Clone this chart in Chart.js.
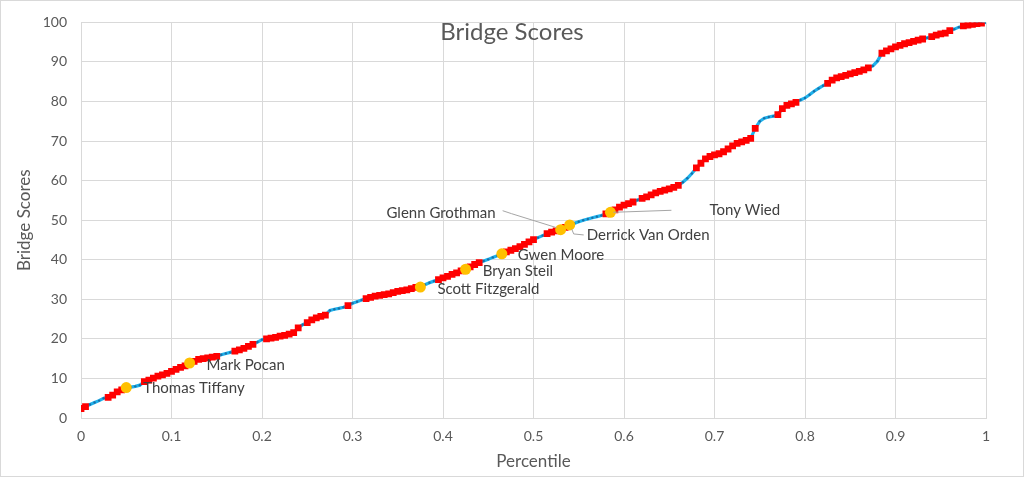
<!DOCTYPE html>
<html>
<head>
<meta charset="utf-8">
<title>Bridge Scores</title>
<script src="https://cdn.jsdelivr.net/npm/chart.js@4.4.1/dist/chart.umd.min.js"></script>
<style>
  html, body { margin: 0; padding: 0; background: #fff; }
  #wrap { width: 1024px; height: 477px; position: relative; }
</style>
</head>
<body>
<div id="wrap"><canvas id="bridgeChart"></canvas></div>
<script>
// Bridge Scores - percentile curve

// scores, one every 0.005 of percentile (201 members)
const scores = [
  2.4, 2.9, 3.4, 3.9, 4.4, 5.0, 5.2, 5.8, 6.6, 7.1, 7.6, 7.8, 8.0, 8.3, 9.2, 9.6, 10.1, 10.6, 10.9, 11.3,
  11.8, 12.3, 12.8, 13.2, 13.8, 14.3, 14.8, 15.0, 15.2, 15.4, 15.6, 16.0, 16.3, 16.6, 16.9, 17.2, 17.6, 18.1, 18.6, 19.2,
  19.8, 20.0, 20.2, 20.4, 20.7, 20.9, 21.2, 21.6, 22.8, 23.6, 24.1, 24.8, 25.3, 25.7, 26.0, 27.2, 27.5, 27.7, 28.0, 28.4,
  29.0, 29.4, 29.8, 30.2, 30.5, 30.8, 31.0, 31.2, 31.4, 31.7, 32.0, 32.2, 32.4, 32.7, 33.0, 33.2, 33.7, 34.2, 34.6, 35.0,
  35.4, 35.8, 36.3, 36.7, 37.2, 37.6, 38.2, 38.8, 39.3, 39.7, 40.1, 40.6, 41.0, 41.5, 42.0, 42.4, 42.8, 43.3, 43.9, 44.5,
  45.1, 45.6, 46.1, 46.6, 47.0, 47.3, 47.6, 48.2, 48.8, 49.2, 49.6, 50.0, 50.3, 50.6, 50.9, 51.2, 51.6, 52.0, 52.6, 53.3,
  53.8, 54.2, 54.6, 55.1, 55.5, 55.9, 56.4, 56.9, 57.3, 57.6, 57.9, 58.3, 58.8, 59.6, 60.6, 61.8, 63.2, 64.4, 65.5, 66.1,
  66.5, 66.8, 67.3, 68.0, 68.8, 69.4, 69.8, 70.2, 70.7, 73.2, 75.0, 75.8, 76.1, 76.3, 76.7, 78.2, 79.0, 79.4, 79.8, 80.4,
  80.9, 81.7, 82.6, 83.3, 84.0, 84.6, 85.4, 86.0, 86.3, 86.6, 87.0, 87.3, 87.6, 88.0, 88.5, 89.0, 90.2, 92.2, 92.8, 93.3,
  93.8, 94.2, 94.6, 94.9, 95.2, 95.5, 95.8, 96.1, 96.4, 96.8, 97.1, 97.3, 97.9, 98.3, 98.8, 99.1, 99.3, 99.5, 99.7, 99.8,
  100.0
];

// party of each member, same order as scores (R = red marker, D = blue line only)
const parties = [
  "RR", "DDDD", "RRRRR", "DDD", "RRRRRRRRRR", "D", "RRRRRR", "DDD", "RRRRR", "DD",
  "RRRRRRRR", "D", "RRRRR", "DDDD", "R", "DDD", "RRRRRRRRRRRRR", "DDD", "RRRRRRRRRR", "DDDDD",
  "RRRRRRR", "DD", "RRRRRR", "DDDDDDD", "RRRRRRR", "D", "RRRRRRRRR", "DDD", "RRRRRRRRRRRRRR", "DDDD",
  "RRRRR", "DDDDDD", "RRRRRRRRRR", "DD", "RRRRRRRRRR", "D", "RRRRR", "DD", "RRRRR", "D"
].join("");

// Wisconsin delegation, highlighted
const names = ["Thomas Tiffany", "Mark Pocan", "Scott Fitzgerald", "Bryan Steil",
  "Gwen Moore", "Glenn Grothman", "Derrick Van Orden", "Tony Wied"];
const namePercentiles = [0.05, 0.12, 0.375, 0.425, 0.465, 0.53, 0.54, 0.585];
const nameScores = [7.7, 13.9, 33.1, 37.6, 41.5, 47.6, 48.8, 52.0];

const xTicks = { min: 0, max: 1, step: 0.1 };
const yTicks = { min: 0, max: 100, step: 10 };

const FONT = "Lato, 'Open Sans', sans-serif";
const GREY_TEXT = "#595959";
const GRID = "#d9d9d9";

// percentile = rank / (n - 1)
const allPoints = scores.map((s, i) => ({ x: i / (scores.length - 1), y: s }));
const redPoints = allPoints.filter((p, i) => parties[i] === "R");
const namedPoints = names.map((n, i) => ({ x: namePercentiles[i], y: nameScores[i] }));

// label placement relative to the marker (pixels); leader = polyline from marker
const labelStyle = [
  { dx: 17, dy: 1, align: "left" },
  { dx: 17, dy: 2, align: "left" },
  { dx: 17, dy: 2, align: "left" },
  { dx: 17, dy: 2, align: "left" },
  { dx: 16, dy: 1, align: "left" },
  { dx: -65, dy: -17, align: "right", leader: [[-58, -19], [-49, -16], [-4, -2]] },
  { dx: 17, dy: 10, align: "left", leader: [[2, 4], [4, 9], [14, 10]] },
  { dx: 99, dy: -2, align: "left", leader: [[3, 0], [61, -2]] }
];

const frameAndTitle = {
  id: "frameAndTitle",
  beforeDraw(chart) {
    const ctx = chart.ctx;
    ctx.save();
    ctx.fillStyle = "#fff";
    ctx.fillRect(0, 0, chart.width, chart.height);
    ctx.restore();
  },
  afterDraw(chart) {
    const ctx = chart.ctx;
    ctx.save();
    ctx.strokeStyle = GRID;
    ctx.lineWidth = 1;
    ctx.strokeRect(0.5, 0.5, chart.width - 1, chart.height - 1);
    ctx.fillStyle = GREY_TEXT;
    ctx.font = "24px " + FONT;
    ctx.textAlign = "center";
    ctx.textBaseline = "middle";
    ctx.fillText("Bridge Scores", chart.width / 2, 32);
    ctx.restore();
  }
};

const nameLabels = {
  id: "nameLabels",
  afterDatasetsDraw(chart) {
    const ctx = chart.ctx;
    const meta = chart.getDatasetMeta(0);
    ctx.save();
    ctx.font = "15px " + FONT;
    ctx.fillStyle = "#404040";
    ctx.textBaseline = "middle";
    ctx.strokeStyle = "#a6a6a6";
    ctx.lineWidth = 1;
    meta.data.forEach((pt, i) => {
      const st = labelStyle[i];
      if (st.leader) {
        ctx.beginPath();
        st.leader.forEach(([lx, ly], k) => {
          if (k === 0) ctx.moveTo(pt.x + lx, pt.y + ly);
          else ctx.lineTo(pt.x + lx, pt.y + ly);
        });
        ctx.stroke();
      }
      ctx.textAlign = st.align;
      ctx.fillText(names[i], pt.x + st.dx, pt.y + st.dy);
    });
    ctx.restore();
  }
};

document.addEventListener("DOMContentLoaded", () => {
  const ctx = document.getElementById("bridgeChart").getContext("2d");
  new Chart(ctx, {
    type: "scatter",
    data: {
      datasets: [
        {
          label: "Wisconsin",
          data: namedPoints,
          backgroundColor: "#FFC000",
          pointRadius: 5.5,
          pointBorderWidth: 0,
          order: 0
        },
        {
          label: "Republican",
          data: redPoints,
          backgroundColor: "#FF0000",
          pointStyle: "rect",
          pointRadius: 4.8,
          pointBorderWidth: 0,
          order: 1
        },
        {
          label: "All",
          data: allPoints,
          showLine: true,
          borderColor: "#1EB2EC",
          borderWidth: 3.2,
          backgroundColor: "#1a6fa8",
          pointRadius: 1.2,
          pointBorderWidth: 0,
          order: 2
        }
      ]
    },
    options: {
      responsive: true,
      maintainAspectRatio: false,
      animation: false,
      layout: { padding: { left: 0, right: 38, top: 18, bottom: 0 } },
      plugins: {
        legend: { display: false },
        tooltip: { enabled: false },
        title: { display: false }
      },
      scales: {
        x: {
          type: "linear",
          min: xTicks.min,
          max: xTicks.max,
          afterFit: s => { s.height = 59; },
          grid: { color: GRID, drawTicks: false },
          border: { color: GRID },
          ticks: {
            stepSize: xTicks.step,
            padding: 10,
            color: GREY_TEXT,
            font: { family: FONT, size: 14 },
            callback: v => String(Number(v.toFixed(1)))
          },
          title: {
            display: true,
            text: "Percentile",
            color: GREY_TEXT,
            font: { family: FONT, size: 17 },
            padding: { top: 0, bottom: 5 }
          }
        },
        y: {
          min: yTicks.min,
          max: yTicks.max,
          afterFit: s => { s.width = 81; },
          grid: { color: GRID, drawTicks: false },
          border: { color: GRID },
          ticks: {
            stepSize: yTicks.step,
            padding: 14,
            color: GREY_TEXT,
            font: { family: FONT, size: 14 }
          },
          title: {
            display: true,
            text: "Bridge Scores",
            color: GREY_TEXT,
            font: { family: FONT, size: 17 },
            padding: { top: 14, bottom: 0 }
          }
        }
      }
    },
    plugins: [frameAndTitle, nameLabels]
  });
});
</script>
</body>
</html>
